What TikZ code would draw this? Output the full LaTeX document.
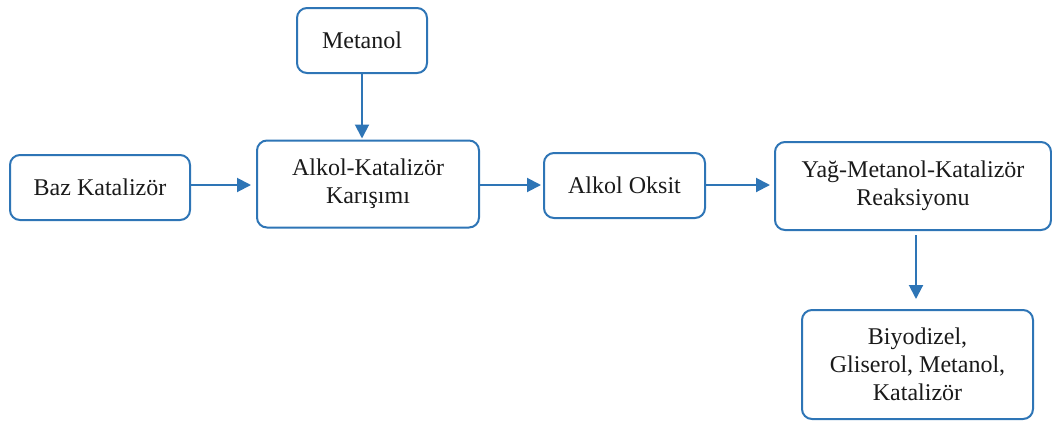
\documentclass[tikz,border=0pt]{standalone}
\usepackage{fontspec}
\setmainfont{Liberation Serif}
\usetikzlibrary{arrows.meta,positioning,calc}
\definecolor{cBlue}{HTML}{2E75B6}
\definecolor{cInk}{HTML}{1A1A1A}
\tikzset{
  >={Triangle[length=14pt,width=14pt]},
  box/.style={rounded corners=10pt,draw=cBlue,line width=2pt,fill=white,align=center,
              inner sep=4pt,text=cInk,font=\fontsize{24}{28}\selectfont},
  ar/.style={->,draw=cBlue,line width=2pt},
}
\begin{document}
\begin{tikzpicture}[x=1pt,y=-1pt]
\useasboundingbox (0,0) rectangle (1052,421);
\node[box,minimum width=130pt,minimum height=65pt] (metanol) at (362,40.5) {Metanol};
\node[box,minimum width=180pt,minimum height=65pt] (baz) at (100,187.5) {Baz Katalizör};
\node[box,minimum width=222pt,minimum height=87pt] (karisim) at (368,184) {Alkol-Katalizör\\ Karışımı};
\node[box,minimum width=161pt,minimum height=65pt] (oksit) at (624.5,185.5) {Alkol Oksit};
\node[box,minimum width=276pt,minimum height=88pt] (yag) at (913,186) {Yağ-Metanol-Katalizör\\ Reaksiyonu};
\node[box,minimum width=231pt,minimum height=109pt] (biyo) at (917.5,364.5) {Biyodizel,\\ Gliserol, Metanol,\\ Katalizör};
% akis oklari
\draw[ar,shorten >=1pt] (metanol) -- (metanol |- karisim.north);
\draw[ar,shorten >=5pt] (baz.east |- 0,185) -- (karisim.west |- 0,185);
\draw[ar,shorten >=2pt] (karisim.east |- 0,185) -- (oksit.west |- 0,185);
\draw[ar,shorten >=4pt] (oksit.east |- 0,185) -- (yag.west |- 0,185);
\draw[ar,shorten <=4pt,shorten >=10pt] (yag.south -| 916,0) -- (biyo.north -| 916,0);
\end{tikzpicture}
\end{document}
